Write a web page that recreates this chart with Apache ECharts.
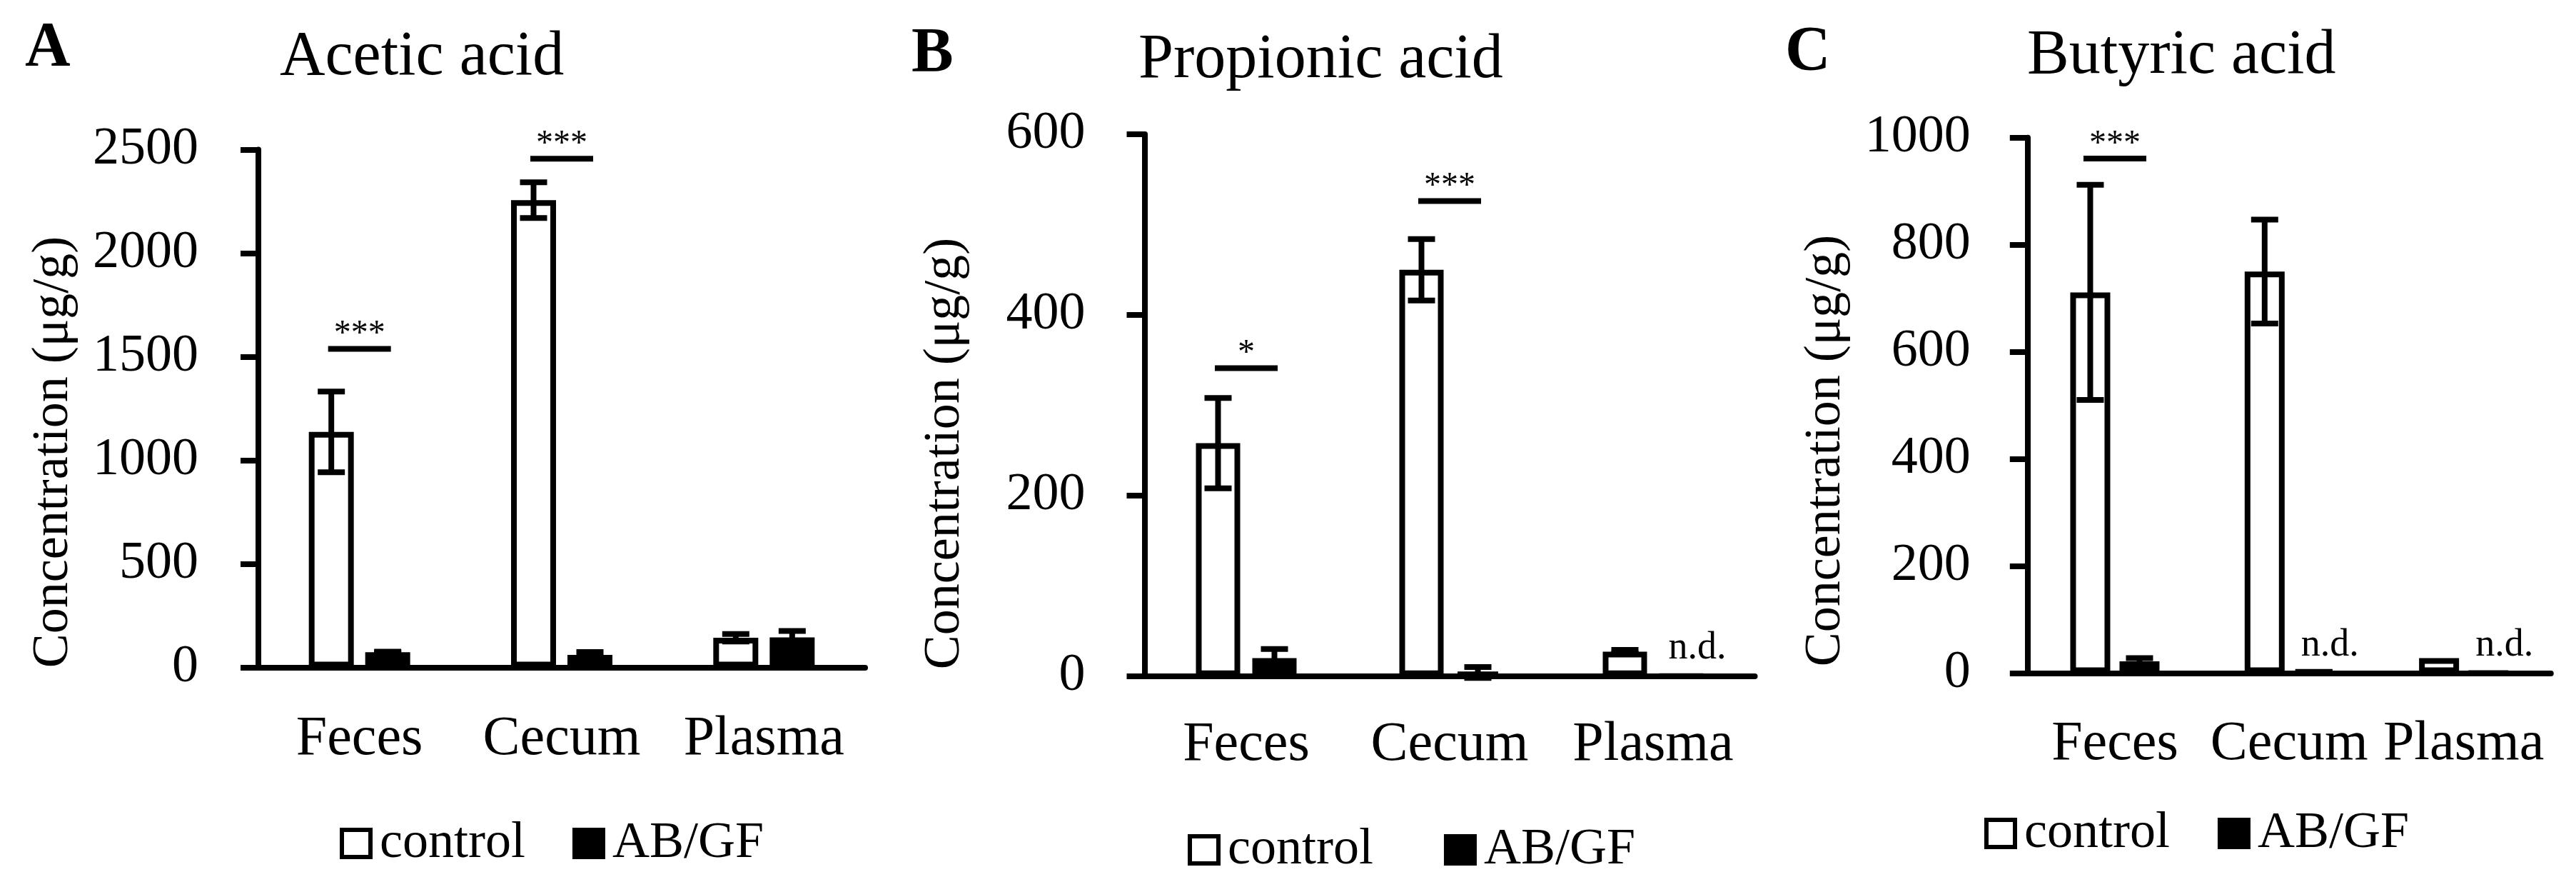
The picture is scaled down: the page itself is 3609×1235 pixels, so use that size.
<!DOCTYPE html>
<html>
<head>
<meta charset="utf-8">
<script src="https://cdn.jsdelivr.net/npm/echarts@6/dist/echarts.min.js"></script>
<style>
html,body{margin:0;padding:0;background:#fff;}
#chart{width:3609px;height:1235px;}
</style>
</head>
<body>
<div id="chart"></div>
<script>
// ---------------- DATA ----------------
const categories = ['Feces', 'Cecum', 'Plasma'];
const seriesNames = ['control', 'AB/GF'];

const aceticControl = [1137, 2256, 143];
const aceticControlErr = [195, 86, 18];
const aceticABGF = [73, 60, 145];
const aceticABGFErr = [3, 14, 31];
const aceticTicks = [0, 500, 1000, 1500, 2000, 2500];
const aceticSig = [[0, 1538], [1, 2456]];
const aceticSigLabels = ['***', '***'];
const aceticND = [];

const propionicControl = [258, 450, 27];
const propionicControlErr = [50, 34, 2];
const propionicABGF = [20, 4, 0];
const propionicABGFErr = [10, 6, 0];
const propionicTicks = [0, 200, 400, 600];
const propionicSig = [[0, 341], [1, 526]];
const propionicSigLabels = ['*', '***'];
const propionicND = [2];

const butyricControl = [711, 750, 28];
const butyricControlErr = [201, 97, 0];
const butyricABGF = [22, 5, 0];
const butyricABGFErr = [6, 0, 0];
const butyricTicks = [0, 200, 400, 600, 800, 1000];
const butyricSig = [[0, 961]];
const butyricSigLabels = ['***'];
const butyricND = [1, 2];

const panelTitles = ['Acetic acid', 'Propionic acid', 'Butyric acid'];
const panelLetters = ['A', 'B', 'C'];
const yAxisName = 'Concentration (\u03bcg/g)';

// ---------------- LAYOUT / STYLE ----------------
const FONT = '"Liberation Serif", "Times New Roman", serif';
const LW = 8;
const panels = [
  { grid: {left: 362, top: 209.5, width: 850, height: 725}, barW: 63, gap: 16,
    ctrl: aceticControl, ctrlErr: aceticControlErr, ab: aceticABGF, abErr: aceticABGFErr,
    ticks: aceticTicks, sig: aceticSig, sigLabels: aceticSigLabels, nd: aceticND,
    letter: [35, 68.5], title: [392, 80.5], yname: [75, 633], legend: [476, 1145], legendGap: 66,
    labelMargin: 84, catMargin: 62 },
  { grid: {left: 1603.5, top: 188, width: 855, height: 758.7}, barW: 62, gap: 17,
    ctrl: propionicControl, ctrlErr: propionicControlErr, ab: propionicABGF, abErr: propionicABGFErr,
    ticks: propionicTicks, sig: propionicSig, sigLabels: propionicSigLabels, nd: propionicND,
    letter: [1277, 76.5], title: [1595, 84.5], yname: [1324, 635], legend: [1664, 1154], legendGap: 99,
    labelMargin: 83, catMargin: 58 },
  { grid: {left: 2840.8, top: 192.7, width: 733, height: 749.8}, barW: 56, gap: 13,
    ctrl: butyricControl, ctrlErr: butyricControlErr, ab: butyricABGF, abErr: butyricABGFErr,
    ticks: butyricTicks, sig: butyricSig, sigLabels: butyricSigLabels, nd: butyricND,
    letter: [2501, 74.5], title: [2840, 78.5], yname: [2558, 631], legend: [2780, 1131], legendGap: 67,
    labelMargin: 80, catMargin: 61 }
];

const grids = [], xAxes = [], yAxes = [], series = [], legends = [], graphics = [];

function errRender(offset) {
  return function (params, api) {
    const i = api.value(0), v = api.value(1), e = api.value(2);
    if (!e) return null;
    const hi = api.coord([i, v + e]);
    const lo = api.coord([i, v - e]);
    const x = hi[0] + offset;
    const st = {stroke: '#000', lineWidth: LW};
    return {type: 'group', children: [
      {type: 'line', shape: {x1: x, y1: hi[1], x2: x, y2: lo[1]}, style: st},
      {type: 'line', shape: {x1: x - 19, y1: hi[1], x2: x + 19, y2: hi[1]}, style: st},
      {type: 'line', shape: {x1: x - 19, y1: lo[1], x2: x + 19, y2: lo[1]}, style: st}
    ]};
  };
}

function sigRender(labels) {
  return function (params, api) {
    const c = api.coord([api.value(0), api.value(1)]);
    return {type: 'group', children: [
      {type: 'line', shape: {x1: c[0] - 44, y1: c[1], x2: c[0] + 44, y2: c[1]},
       style: {stroke: '#000', lineWidth: LW}},
      {type: 'text', style: {text: labels[params.dataIndex], x: c[0], y: c[1] + 4,
        textAlign: 'center', textVerticalAlign: 'bottom', font: '48px ' + FONT, fill: '#000'}}
    ]};
  };
}

function ndRender(offset) {
  return function (params, api) {
    const c = api.coord([api.value(0), 0]);
    return {type: 'text', style: {text: 'n.d.', x: c[0] + offset - 18, y: c[1] - 12,
      textAlign: 'left', textVerticalAlign: 'bottom', font: '54px ' + FONT, fill: '#000'}};
  };
}

panels.forEach((p, k) => {
  grids.push(Object.assign({containLabel: false}, p.grid));
  xAxes.push({
    type: 'category', gridIndex: k, data: categories,
    axisLine: {lineStyle: {color: '#000', width: LW}},
    axisTick: {show: false},
    axisLabel: {color: '#000', fontFamily: FONT, fontSize: 78, margin: p.catMargin, interval: 0, hideOverlap: false}
  });
  const tmin = p.ticks[0], tmax = p.ticks[p.ticks.length - 1];
  yAxes.push({
    type: 'value', gridIndex: k, min: tmin, max: tmax, interval: p.ticks[1] - p.ticks[0],
    axisLine: {show: true, lineStyle: {color: '#000', width: LW}},
    axisTick: {show: true, length: 25, lineStyle: {color: '#000', width: LW}},
    splitLine: {show: false},
    axisLabel: {color: '#000', fontFamily: FONT, fontSize: 74, margin: p.labelMargin,
      formatter: v => String(v)}
  });
  const half = (p.barW + p.gap) / 2;
  const gapPct = (p.gap / p.barW * 100).toFixed(1) + '%';
  series.push({
    type: 'bar', name: 'control', xAxisIndex: k, yAxisIndex: k, data: p.ctrl,
    barWidth: p.barW, barGap: gapPct,
    itemStyle: {color: '#fff', borderColor: '#000', borderWidth: LW}, z: 2, animation: false
  });
  series.push({
    type: 'bar', name: 'AB/GF', xAxisIndex: k, yAxisIndex: k, data: p.ab,
    barWidth: p.barW, barGap: gapPct,
    itemStyle: {color: '#000', borderColor: '#000', borderWidth: LW}, z: 2, animation: false
  });
  series.push({
    type: 'custom', name: 'errC' + k, xAxisIndex: k, yAxisIndex: k, z: 5,
    renderItem: errRender(-half), encode: {x: 0, y: 1},
    data: categories.map((c, i) => [i, p.ctrl[i], p.ctrlErr[i]]), animation: false, silent: true
  });
  series.push({
    type: 'custom', name: 'errA' + k, xAxisIndex: k, yAxisIndex: k, z: 5,
    renderItem: errRender(half), encode: {x: 0, y: 1},
    data: categories.map((c, i) => [i, p.ab[i], p.abErr[i]]), animation: false, silent: true
  });
  series.push({
    type: 'custom', name: 'sig' + k, xAxisIndex: k, yAxisIndex: k, z: 6,
    renderItem: sigRender(p.sigLabels), encode: {x: 0, y: 1},
    data: p.sig, animation: false, silent: true
  });
  if (p.nd.length) {
    series.push({
      type: 'custom', name: 'nd' + k, xAxisIndex: k, yAxisIndex: k, z: 6,
      renderItem: ndRender(half), encode: {x: 0, y: 1},
      data: p.nd.map(i => [i, 0]), animation: false, silent: true
    });
  }
  legends.push({
    data: seriesNames, left: p.legend[0], top: p.legend[1], orient: 'horizontal',
    icon: 'rect', itemWidth: 40, itemHeight: 38, itemGap: p.legendGap, padding: 0,
    itemStyle: {borderColor: '#000', borderWidth: 6},
    textStyle: {color: '#000', fontFamily: FONT, fontSize: 72, padding: [0, 0, 0, 8]},
    selectedMode: false
  });
  graphics.push({type: 'text', left: p.letter[0], top: p.letter[1] - 44, style: {
    text: panelLetters[k], font: 'bold 88px ' + FONT, fill: '#000'}});
  graphics.push({type: 'text', x: p.title[0], y: p.title[1], style: {
    text: panelTitles[k], font: '88px ' + FONT, fill: '#000', textAlign: 'left', textVerticalAlign: 'middle'}});
  graphics.push({type: 'text', x: p.yname[0], y: p.yname[1], rotation: Math.PI / 2, style: {
    text: yAxisName, font: '72px ' + FONT, fill: '#000', textAlign: 'center', textVerticalAlign: 'middle'}});
});

const chart = echarts.init(document.getElementById('chart'), null, {renderer: 'canvas'});
chart.setOption({
  backgroundColor: '#fff',
  animation: false,
  grid: grids, xAxis: xAxes, yAxis: yAxes, series: series, legend: legends,
  graphic: graphics
});
</script>
</body>
</html>
